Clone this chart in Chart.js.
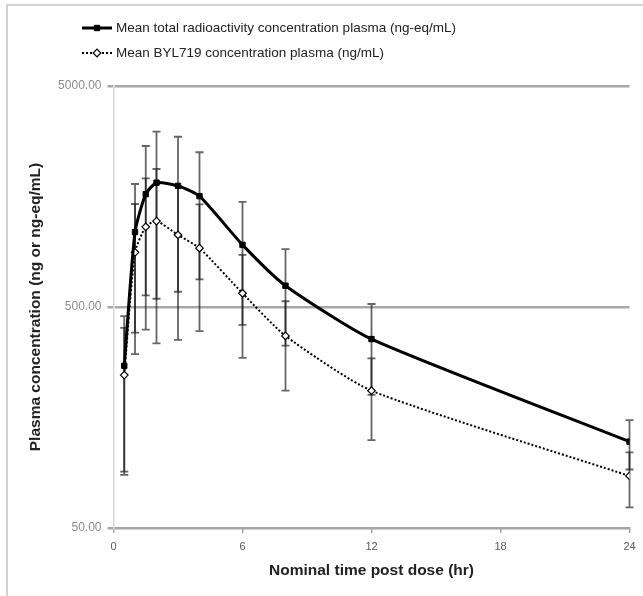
<!DOCTYPE html>
<html>
<head>
<meta charset="utf-8">
<script src="https://cdn.jsdelivr.net/npm/chart.js@4.4.1/dist/chart.umd.min.js"></script>
<style>
  html, body { margin: 0; padding: 0; background: #fff; }
  #wrap { width: 643px; height: 596px; }
</style>
</head>
<body>
<div id="wrap"><canvas id="pk-chart" width="643" height="596"></canvas></div>
<script>
// nominal sampling times (hr)
const times = [0.5, 1, 1.5, 2, 3, 4, 6, 8, 12, 24];
// mean total radioactivity (ng-eq/mL) and SD
const totalMean = [271, 1092, 1620, 1826, 1766, 1587, 955, 624, 358, 123];
const totalSD = [184, 709, 1056, 1281, 1180, 920, 540, 290, 158, 31];
// mean BYL719 (ng/mL) and SD
const bylMean = [246, 884, 1153, 1224, 1059, 923, 577, 370, 209, 86];
const bylSD = [156, 578, 758, 882, 704, 534, 283, 161, 84, 24];

const xTicks = [0, 6, 12, 18, 24];
const yTicks = [50, 500, 5000];

const seriesLabels = [
    'Mean total radioactivity concentration plasma (ng-eq/mL)',
    'Mean BYL719 concentration plasma (ng/mL)'
];

const toPoints = (vals) => times.map((t, i) => ({ x: t, y: vals[i] }));

// white background + outer frame
const frame = {
    id: 'frame',
    beforeDraw(chart) {
        const { ctx } = chart;
        ctx.save();
        ctx.fillStyle = '#fff';
        ctx.fillRect(0, 0, chart.width, chart.height);
        ctx.strokeStyle = '#c4c4c4';
        ctx.lineWidth = 1.5;
        ctx.strokeRect(7, 5, chart.width + 20, chart.height + 20);
        ctx.restore();
    }
};

// +/- SD bars, drawn under the lines
const errorBars = {
    id: 'errorBars',
    beforeDatasetsDraw(chart) {
        const { ctx, scales: { x, y } } = chart;
        const sets = [[totalMean, totalSD], [bylMean, bylSD]];
        ctx.save();
        ctx.strokeStyle = 'rgba(20,20,20,0.65)';
        ctx.lineWidth = 1.8;
        sets.forEach(([mean, sd]) => {
            times.forEach((t, i) => {
                const px = x.getPixelForValue(t);
                const hi = y.getPixelForValue(mean[i] + sd[i]);
                const lo = y.getPixelForValue(Math.max(mean[i] - sd[i], 50));
                ctx.beginPath();
                ctx.moveTo(px, hi);
                ctx.lineTo(px, lo);
                ctx.moveTo(px - 4, hi);
                ctx.lineTo(px + 4, hi);
                ctx.moveTo(px - 4, lo);
                ctx.lineTo(px + 4, lo);
                ctx.stroke();
            });
        });
        ctx.restore();
    }
};

// legend rows, left aligned like the original
const legendRows = {
    id: 'legendRows',
    afterDraw(chart) {
        const { ctx } = chart;
        const rowsY = [28, 53];
        ctx.save();
        chart.data.datasets.forEach((ds, i) => {
            const yy = rowsY[i];
            ctx.strokeStyle = '#000';
            ctx.lineWidth = ds.borderWidth;
            ctx.setLineDash(ds.borderDash || []);
            ctx.beginPath();
            ctx.moveTo(82, yy);
            ctx.lineTo(112, yy);
            ctx.stroke();
            ctx.setLineDash([]);
            ctx.fillStyle = ds.pointBackgroundColor;
            ctx.strokeStyle = ds.pointBorderColor;
            ctx.lineWidth = ds.pointBorderWidth;
            ctx.beginPath();
            if (ds.pointStyle === 'rect') {
                const s = ds.pointRadius * Math.SQRT1_2;
                ctx.rect(97 - s, yy - s, 2 * s, 2 * s);
            } else {
                const r = ds.pointRadius;
                ctx.moveTo(97, yy - r);
                ctx.lineTo(97 + r, yy);
                ctx.lineTo(97, yy + r);
                ctx.lineTo(97 - r, yy);
                ctx.closePath();
            }
            ctx.fill();
            ctx.stroke();
            ctx.fillStyle = '#222';
            ctx.font = '13.5px "Liberation Sans", Arial, sans-serif';
            ctx.textBaseline = 'middle';
            ctx.textAlign = 'left';
            ctx.fillText(ds.label, 116, yy);
        });
        ctx.restore();
    }
};

new Chart(document.getElementById('pk-chart'), {
    type: 'line',
    data: {
        datasets: [{
            label: seriesLabels[0],
            data: toPoints(totalMean),
            borderColor: '#000',
            borderWidth: 3,
            tension: 0.2,
            pointStyle: 'rect',
            pointRadius: 3.8,
            pointBackgroundColor: '#000',
            pointBorderColor: '#000',
            pointBorderWidth: 1
        }, {
            label: seriesLabels[1],
            data: toPoints(bylMean),
            borderColor: '#000',
            borderWidth: 2,
            borderDash: [2, 2],
            tension: 0.2,
            pointStyle: 'rectRot',
            pointRadius: 3.8,
            pointBackgroundColor: '#fff',
            pointBorderColor: '#000',
            pointBorderWidth: 1.2
        }]
    },
    options: {
        responsive: false,
        animation: false,
        devicePixelRatio: 1,
        layout: { padding: { top: 86, right: 13.5, bottom: 10, left: 0 } },
        plugins: {
            legend: { display: false },
            tooltip: { enabled: false }
        },
        scales: {
            x: {
                type: 'linear',
                min: 0,
                max: 24,
                afterFit: (s) => { s.height = 58; },
                afterBuildTicks: (s) => { s.ticks = xTicks.map(v => ({ value: v })); },
                border: { color: '#a6a6a6', width: 2 },
                grid: { drawOnChartArea: false, drawTicks: true, tickLength: 5, color: '#a6a6a6', lineWidth: 1.5 },
                ticks: {
                    padding: 7,
                    color: '#595959',
                    font: { family: '"Liberation Sans", Arial, sans-serif', size: 11 }
                },
                title: {
                    display: true,
                    text: 'Nominal time post dose (hr)',
                    color: '#222',
                    padding: { top: 2, bottom: 6 },
                    font: { family: '"Liberation Sans", Arial, sans-serif', size: 15.5, weight: 'bold' }
                }
            },
            y: {
                type: 'logarithmic',
                min: 50,
                max: 5000,
                afterFit: (s) => { s.width = 113.5; },
                afterBuildTicks: (s) => { s.ticks = yTicks.map(v => ({ value: v })); },
                border: { color: '#d9d9d9', width: 1.5 },
                grid: { color: '#a8a8a8', lineWidth: 2.5, drawTicks: true, tickLength: 6 },
                ticks: {
                    padding: 6,
                    color: '#8c8c8c',
                    font: { family: '"Liberation Sans", Arial, sans-serif', size: 12 },
                    callback: (v) => Number(v).toFixed(2)
                },
                title: {
                    display: true,
                    text: 'Plasma concentration (ng or ng-eq/mL)',
                    color: '#222',
                    padding: { top: 26, bottom: 4 },
                    font: { family: '"Liberation Sans", Arial, sans-serif', size: 15.5, weight: 'bold' }
                }
            }
        }
    },
    plugins: [frame, errorBars, legendRows]
});
</script>
</body>
</html>
